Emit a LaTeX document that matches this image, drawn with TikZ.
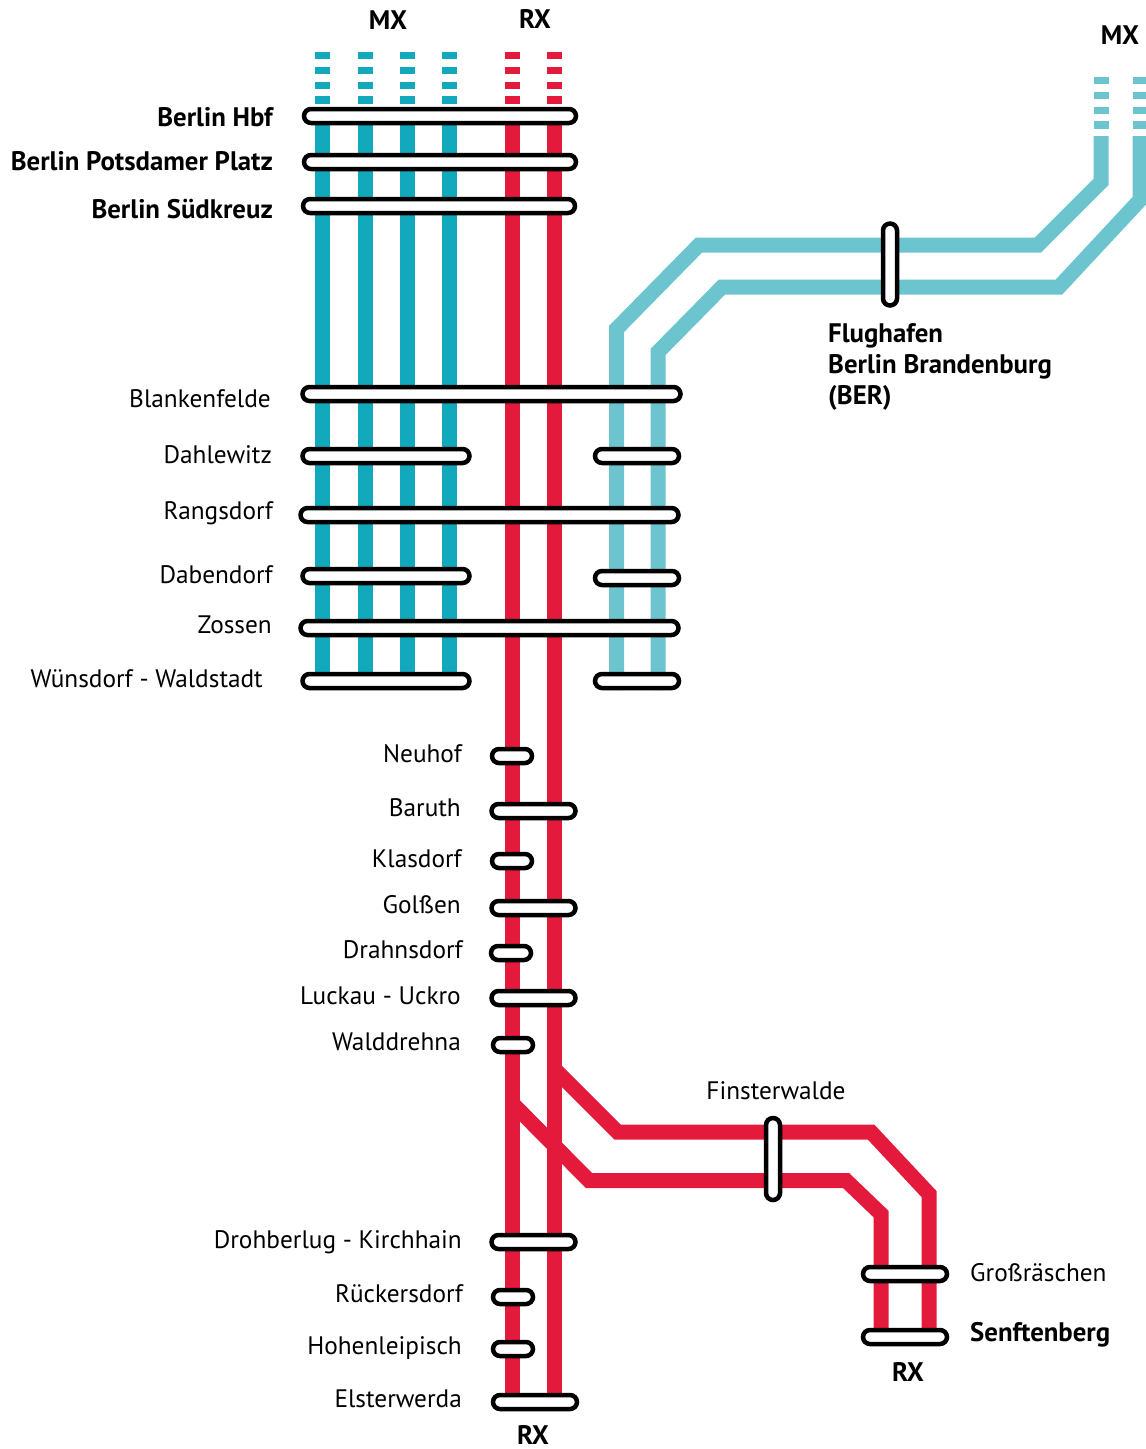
\documentclass[tikz,border=0pt]{standalone}
\usepackage{fontspec}
\setmainfont{PT Sans}
\usetikzlibrary{shapes.misc}
\definecolor{mxdark}{HTML}{12A9BD}
\definecolor{mxlight}{HTML}{6BC4CE}
\definecolor{rxred}{HTML}{E31A3C}

\begin{document}
\begin{tikzpicture}[x=1pt, y=-1pt, inner sep=0pt,
      track/.style={line width=15pt},
      trackdash/.style={line width=15pt, dash pattern=on 7.4pt off 7.4pt},
      stop/.style={rounded rectangle, draw=black, fill=white, line width=4.5pt, minimum height=14pt},
      stopsmall/.style={stop, minimum width=40pt},
      stopmedium/.style={stop, minimum width=84pt},
      stophalf/.style={stop, minimum width=167pt},
      stoptop/.style={stop, minimum width=272pt},
      stopfull/.style={stop, minimum width=378pt},
      stopcross/.style={stop, rotate=90, minimum width=82pt},
      place/.style={font=\fontsize{25.3}{30}\selectfont, anchor=base east},
      placeleft/.style={place, anchor=base west},
      mainplace/.style={place, font=\fontsize{26.8}{30}\selectfont\bfseries},
      mainplaceleft/.style={mainplace, anchor=base west},
      linename/.style={font=\fontsize{26.8}{30}\selectfont\bfseries, anchor=base}]
  \useasboundingbox (0,0) rectangle (1146,1449);
  % track ends
  \coordinate (mx_a_top) at(322.5,52);
  \coordinate (mx_a_dash) at(322.5,104);
  \coordinate (mx_a_start) at(322.5,116);
  \coordinate (mx_a_end) at(322.5,690);
  \coordinate (mx_b_top) at(365,52);
  \coordinate (mx_b_dash) at(365,104);
  \coordinate (mx_b_start) at(365,116);
  \coordinate (mx_b_end) at(365,690);
  \coordinate (mx_c_top) at(407,52);
  \coordinate (mx_c_dash) at(407,104);
  \coordinate (mx_c_start) at(407,116);
  \coordinate (mx_c_end) at(407,690);
  \coordinate (mx_d_top) at(449,52);
  \coordinate (mx_d_dash) at(449,104);
  \coordinate (mx_d_start) at(449,116);
  \coordinate (mx_d_end) at(449,690);
  \coordinate (rx_a_top) at(512.5,52);
  \coordinate (rx_a_dash) at(512.5,104);
  \coordinate (rx_a_start) at(512.5,116);
  \coordinate (rx_a_end) at(512.5,1402);
  \coordinate (rx_a_fork) at(512.5,1103.5);
  \coordinate (rx_b_top) at(554.5,52);
  \coordinate (rx_b_dash) at(554.5,104);
  \coordinate (rx_b_start) at(554.5,116);
  \coordinate (rx_b_end) at(554.5,1402);
  \coordinate (rx_b_fork) at(554.5,1069);
  % tracks
  \draw[track, mxdark] (mx_a_start) -- (mx_a_end);
  \draw[trackdash, mxdark] (mx_a_top) -- (mx_a_dash);
  \draw[track, mxdark] (mx_b_start) -- (mx_b_end);
  \draw[trackdash, mxdark] (mx_b_top) -- (mx_b_dash);
  \draw[track, mxdark] (mx_c_start) -- (mx_c_end);
  \draw[trackdash, mxdark] (mx_c_top) -- (mx_c_dash);
  \draw[track, mxdark] (mx_d_start) -- (mx_d_end);
  \draw[trackdash, mxdark] (mx_d_top) -- (mx_d_dash);
  \draw[track, rxred] (rx_a_start) -- (rx_a_end);
  \draw[trackdash, rxred] (rx_a_top) -- (rx_a_dash);
  \draw[track, rxred] (rx_b_start) -- (rx_b_end);
  \draw[trackdash, rxred] (rx_b_top) -- (rx_b_dash);
  % airport branch
  \coordinate (ber_a_top) at(1101,77);
  \coordinate (ber_a_dash) at(1101,130);
  \coordinate (ber_b_top) at(1140,77);
  \coordinate (ber_b_dash) at(1140,130);
  \draw[trackdash, mxlight] (ber_a_top) -- (ber_a_dash);
  \draw[trackdash, mxlight] (ber_b_top) -- (ber_b_dash);
  \draw[track, mxlight] (1101,136) -- (1101,182) -- (1038,245) -- (699,245) -- (616.5,329) -- (616.5,690);
  \draw[track, mxlight] (1140,136) -- (1140,200) -- (1059,287) -- (722,287) -- (658,352) -- (658,690);
  % senftenberg branch
  \draw[track, rxred] (rx_b_fork) -- (617.5,1132) -- (871,1132) -- (929,1194) -- (929,1340);
  \draw[track, rxred] (rx_a_fork) -- (589,1180.5) -- (846,1180.5) -- (881,1214) -- (881,1340);
  % stops
  \node[stoptop](berlin_hbf) at(440,116) {};
  \node[stoptop](potsdamer_platz) at(440,162) {};
  \node[stoptop](suedkreuz) at(439,206) {};
  \node[stopcross](flughafen) at(890,264.5) {};
  \node[stopfull](blankenfelde) at(491.5,394) {};
  \node[stophalf](dahlewitz) at(386,456) {};
  \node[stopmedium](dahlewitz_b) at(637,456) {};
  \node[stopfull](rangsdorf) at(489.5,515) {};
  \node[stophalf](dabendorf) at(386,576) {};
  \node[stopmedium](dabendorf_b) at(637,578) {};
  \node[stopfull](zossen) at(489.5,628) {};
  \node[stophalf](wuensdorf) at(386,681) {};
  \node[stopmedium](wuensdorf_b) at(637,681) {};
  \node[stopsmall](neuhof) at(512,756) {};
  \node[stopmedium](baruth) at(533.5,811) {};
  \node[stopsmall](klasdorf) at(512,861) {};
  \node[stopmedium](golssen) at(533.5,908) {};
  \node[stopsmall](drahnsdorf) at(511,953) {};
  \node[stopmedium](luckau) at(533.5,998) {};
  \node[stopsmall](walddrehna) at(513,1045) {};
  \node[stopcross](finsterwalde) at(773,1159) {};
  \node[stopmedium](drohberlug) at(533.5,1242) {};
  \node[stopsmall](rueckersdorf) at(513,1297) {};
  \node[stopsmall](hohenleipisch) at(513,1349) {};
  \node[stopmedium](elsterwerda) at(535,1402) {};
  \node[stopmedium](grossraeschen) at(905,1274) {};
  \node[stopmedium](senftenberg) at(905,1337) {};
  % stop names
  \node[mainplace](berlin_hbf_name) at(273,126) {Berlin Hbf};
  \node[mainplace](potsdamer_platz_name) at(273,170) {Berlin Potsdamer Platz};
  \node[mainplace](suedkreuz_name) at(273,218) {Berlin Südkreuz};
  \node[place](blankenfelde_name) at(271,407) {Blankenfelde};
  \node[place](dahlewitz_name) at(272,463) {Dahlewitz};
  \node[place](rangsdorf_name) at(273,519) {Rangsdorf};
  \node[place](dabendorf_name) at(273,583) {Dabendorf};
  \node[place](zossen_name) at(272,633) {Zossen};
  \node[place](wuensdorf_name) at(263,687) {Wünsdorf - Waldstadt};
  \node[place](neuhof_name) at(462,762) {Neuhof};
  \node[place](baruth_name) at(461,816) {Baruth};
  \node[place](klasdorf_name) at(462,867) {Klasdorf};
  \node[place](golssen_name) at(461,913) {Golßen};
  \node[place](drahnsdorf_name) at(463,958) {Drahnsdorf};
  \node[place](luckau_name) at(461,1004) {Luckau - Uckro};
  \node[place](walddrehna_name) at(461,1050) {Walddrehna};
  \node[place](drohberlug_name) at(462,1248) {Drohberlug - Kirchhain};
  \node[place](rueckersdorf_name) at(463,1302) {Rückersdorf};
  \node[place](hohenleipisch_name) at(462,1354) {Hohenleipisch};
  \node[place](elsterwerda_name) at(462,1407) {Elsterwerda};
  \node[placeleft](grossraeschen_name) at(970,1281) {Großräschen};
  \node[mainplaceleft](senftenberg_name) at(970,1341) {Senftenberg};
  \node[place, anchor=base](finsterwalde_name) at(776,1099) {Finsterwalde};
  \node[mainplaceleft](flughafen_name_a) at(828,342) {Flughafen};
  \node[mainplaceleft](flughafen_name_b) at(828,373) {Berlin Brandenburg};
  \node[mainplaceleft](flughafen_name_c) at(828,404) {(BER)};
  % line names
  \node[linename](mx_name) at(388,29) {MX};
  \node[linename](rx_name) at(535,28) {RX};
  \node[linename](mx_name_b) at(1120,44) {MX};
  \node[linename](rx_name_b) at(908,1381) {RX};
  \node[linename](rx_name_c) at(533,1444) {RX};
\end{tikzpicture}
\end{document}
